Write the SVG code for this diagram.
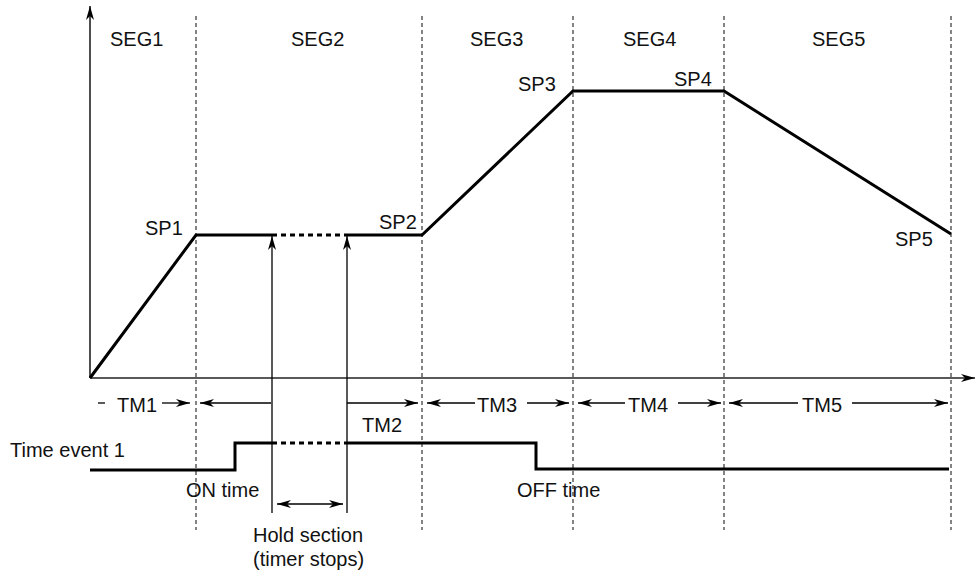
<svg xmlns="http://www.w3.org/2000/svg" width="976" height="575" viewBox="0 0 976 575">
<style>
text{font-family:"Liberation Sans",Arial,sans-serif;font-size:20px;fill:#111}
.dash{stroke:#333;stroke-width:1.2;stroke-dasharray:4 3;fill:none}
.thick{stroke:#000;stroke-width:3;fill:none}
.dot{stroke:#000;stroke-width:3;stroke-dasharray:5 4;fill:none}
.thin{stroke:#000;stroke-width:1.3;fill:none}
.axis{stroke:#222;stroke-width:1.6;fill:none}
</style>
<defs>
<marker id="ah" viewBox="0 0 14 8" refX="14" refY="4" markerWidth="14" markerHeight="8" markerUnits="userSpaceOnUse" orient="auto-start-reverse">
<path d="M0,0 L14,4 L0,8 L4,4 z" fill="#000"/>
</marker>
</defs>
<g id="grid">
<line class="dash" x1="196" y1="16" x2="196" y2="530"/>
<line class="dash" x1="422" y1="16" x2="422" y2="530"/>
<line class="dash" x1="573" y1="16" x2="573" y2="530"/>
<line class="dash" x1="724" y1="16" x2="724" y2="530"/>
<line class="dash" x1="951" y1="16" x2="951" y2="530"/>
</g>
<g id="axes">
<line class="axis" x1="90" y1="378" x2="90" y2="6" marker-end="url(#ah)"/>
<line class="axis" x1="90" y1="378" x2="975" y2="378" marker-end="url(#ah)"/>
</g>
<g id="labels">
<text x="110" y="46">SEG1</text>
<text x="291" y="46">SEG2</text>
<text x="470" y="46">SEG3</text>
<text x="623" y="46">SEG4</text>
<text x="812" y="46">SEG5</text>
<text x="145" y="235">SP1</text>
<text x="379" y="229">SP2</text>
<text x="518" y="91">SP3</text>
<text x="674" y="86">SP4</text>
<text x="895" y="246">SP5</text>
<text x="10" y="457">Time event 1</text>
<text x="186" y="497">ON time</text>
<text x="517" y="497">OFF time</text>
<text x="253" y="542">Hold section</text>
<text x="253" y="566">(timer stops)</text>
<text x="117" y="412">TM1</text>
<text x="362" y="432">TM2</text>
<text x="477" y="412">TM3</text>
<text x="628" y="412">TM4</text>
<text x="802" y="412">TM5</text>
</g>
<g id="profile">
<polyline class="thick" points="90,378 196,235 272,235"/>
<line class="dot" x1="272" y1="235" x2="347" y2="235"/>
<polyline class="thick" points="347,235 422,235 573,91 724,91 951,234"/>
</g>
<g id="timeevent">
<polyline class="thick" points="90,470 235,470 235,443 272,443"/>
<line class="dot" x1="272" y1="443" x2="347" y2="443"/>
<polyline class="thick" points="347,443 536,443 536,469 949,469"/>
</g>
<g id="connectors">
<line class="thin" x1="272" y1="513" x2="272" y2="236" marker-end="url(#ah)"/>
<line class="thin" x1="347" y1="513" x2="347" y2="236" marker-end="url(#ah)"/>
<line class="thin" x1="277" y1="504" x2="343" y2="504" marker-start="url(#ah)" marker-end="url(#ah)"/>
<line class="thin" x1="98" y1="403" x2="105" y2="403"/>
<line class="thin" x1="162" y1="403" x2="190" y2="403" marker-end="url(#ah)"/>
<line class="thin" x1="271" y1="403" x2="200" y2="403" marker-end="url(#ah)"/>
<line class="thin" x1="347" y1="403" x2="418" y2="403" marker-end="url(#ah)"/>
<line class="thin" x1="475" y1="403" x2="427" y2="403" marker-end="url(#ah)"/>
<line class="thin" x1="527" y1="403" x2="569" y2="403" marker-end="url(#ah)"/>
<line class="thin" x1="625" y1="403" x2="578" y2="403" marker-end="url(#ah)"/>
<line class="thin" x1="678" y1="403" x2="721" y2="403" marker-end="url(#ah)"/>
<line class="thin" x1="798" y1="403" x2="729" y2="403" marker-end="url(#ah)"/>
<line class="thin" x1="852" y1="403" x2="948" y2="403" marker-end="url(#ah)"/>
</g>
</svg>
